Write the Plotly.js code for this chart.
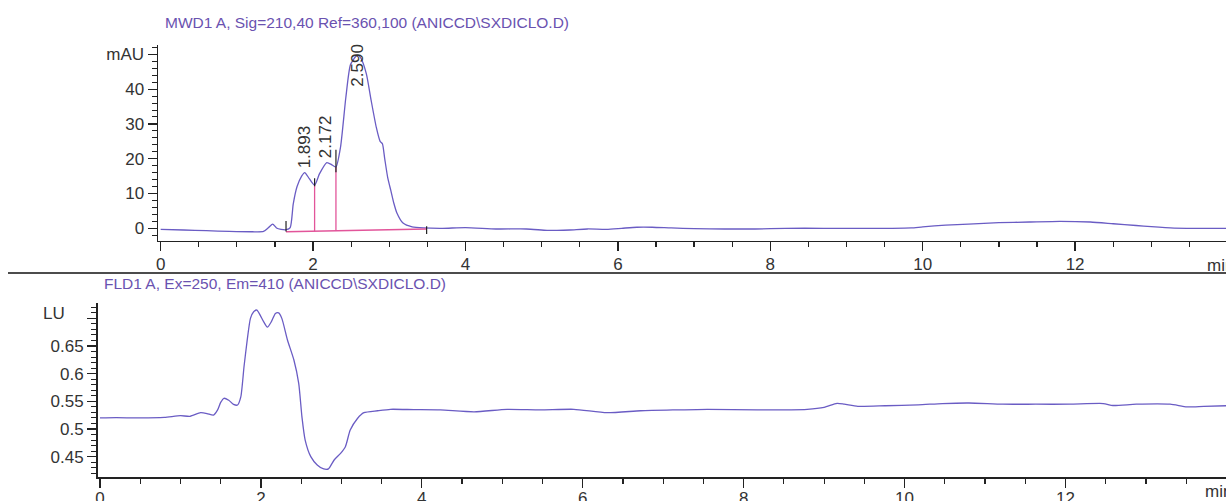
<!DOCTYPE html>
<html>
<head>
<meta charset="utf-8">
<script src="https://cdn.plot.ly/plotly-3.0.1.min.js"></script>
<style>html,body{margin:0;padding:0;background:#fff;}#chart{width:1226px;height:501px;}</style>
</head>
<body>
<div id="chart"></div>
<script>
// ---- MWD1 A signal (mAU vs min) ----
const mwdTime = [0, 0.3, 0.6, 0.9, 1.2, 1.35, 1.42, 1.47, 1.52, 1.58, 1.65, 1.70, 1.74, 1.79, 1.85, 1.89, 1.95, 2.02, 2.085, 2.18, 2.25, 2.30, 2.36, 2.43, 2.49, 2.56, 2.59, 2.63, 2.70, 2.76, 2.83, 2.88, 2.91, 2.94, 2.98, 3.02, 3.06, 3.10, 3.18, 3.30, 3.45, 3.7, 4.0, 4.4, 4.8, 5.07, 5.2, 5.37, 5.6, 5.85, 6.05, 6.25, 6.45, 6.7, 7.0, 7.4, 7.8, 8.2, 8.7, 9.2, 9.6, 9.85, 10.0, 10.3, 10.6, 11.0, 11.4, 11.8, 12.2, 12.5, 12.8, 13.0, 13.3, 13.6, 14.0];
const mwdSignal = [-0.3, -0.5, -0.7, -0.9, -1.0, -0.9, 0.3, 1.2, 0.1, -0.3, -0.4, 0.2, 7, 12, 15, 16, 14.3, 12.4, 15.7, 18.9, 18.2, 17.6, 23.3, 37.6, 47, 49.4, 49.8, 48.8, 44.3, 37, 29, 25, 24.3, 20, 14.5, 10.9, 7.2, 4.4, 1.5, 0.4, 0.1, 0, 0.2, -0.2, -0.2, -0.6, -0.6, -0.5, -0.2, -0.3, 0, 0.3, 0.3, 0.1, -0.1, -0.2, -0.2, 0, 0, 0, 0, 0.1, 0.4, 0.9, 1.2, 1.6, 1.8, 2.0, 1.8, 1.3, 0.8, 0.45, 0.05, 0, 0];

// integration events
const peakTimes = [1.893, 2.172, 2.590];
const peakLabels = ["1.893", "2.172", "2.590"];
const baseStart = [1.645, -1.0];
const baseEnd = [3.49, -0.2];
const dropTimes = [2.02, 2.30];

// ---- FLD1 A signal (LU vs min) ----
const fldTime = [0, 0.2, 0.5, 0.8, 1.0, 1.12, 1.25, 1.33, 1.41, 1.46, 1.50, 1.54, 1.60, 1.66, 1.71, 1.75, 1.79, 1.83, 1.87, 1.91, 1.95, 1.99, 2.03, 2.08, 2.13, 2.18, 2.22, 2.26, 2.33, 2.41, 2.47, 2.51, 2.55, 2.62, 2.70, 2.78, 2.84, 2.91, 2.99, 3.05, 3.11, 3.20, 3.28, 3.45, 3.61, 3.9, 4.23, 4.65, 5.06, 5.47, 5.89, 6.30, 6.72, 7.14, 7.55, 8.17, 8.79, 9.0, 9.16, 9.25, 9.42, 9.76, 10.17, 10.47, 10.80, 11.22, 11.63, 12.05, 12.47, 12.59, 12.88, 13.30, 13.51, 13.72, 14.0];
const fldSignal = [0.520, 0.5205, 0.520, 0.521, 0.524, 0.523, 0.5295, 0.528, 0.525, 0.534, 0.548, 0.5555, 0.552, 0.5445, 0.5434, 0.558, 0.6126, 0.661, 0.700, 0.712, 0.715, 0.706, 0.695, 0.684, 0.694, 0.709, 0.710, 0.700, 0.661, 0.6247, 0.5826, 0.522, 0.480, 0.45, 0.435, 0.4277, 0.428, 0.444, 0.456, 0.468, 0.498, 0.519, 0.5295, 0.533, 0.5356, 0.535, 0.5345, 0.531, 0.5356, 0.5345, 0.5356, 0.5295, 0.533, 0.5345, 0.5356, 0.5345, 0.5356, 0.539, 0.5464, 0.545, 0.541, 0.542, 0.5437, 0.546, 0.547, 0.5448, 0.5448, 0.5448, 0.546, 0.5425, 0.5448, 0.5448, 0.540, 0.541, 0.542];

// axis ticks
const mwdTickVals = [0, 10, 20, 30, 40, 50];
const mwdTickText = ["0", "10", "20", "30", "40", "mAU"];
const fldTickVals = [0.45, 0.5, 0.55, 0.6, 0.65, 0.7];
const fldTickText = ["0.45", "0.5", "0.55", "0.6", "0.65", ""];
const timeTickVals = [0, 2, 4, 6, 8, 10, 12];

const titleTop = "MWD1 A, Sig=210,40 Ref=360,100 (ANICCD\\SXDICLO.D)";
const titleBottom = "FLD1 A, Ex=250, Em=410 (ANICCD\\SXDICLO.D)";

function interp(xs, ys, x) {
  for (let i = 0; i < xs.length - 1; i++) {
    if (x >= xs[i] && x <= xs[i + 1]) {
      const f = (x - xs[i]) / (xs[i + 1] - xs[i]);
      return ys[i] + f * (ys[i + 1] - ys[i]);
    }
  }
  return ys[ys.length - 1];
}
function baseAt(t) {
  return baseStart[1] + (t - baseStart[0]) / (baseEnd[0] - baseStart[0]) * (baseEnd[1] - baseStart[1]);
}

const LINE = '#6a5cc4';
const PINK = '#e2559a';
const AX = '#222';
const TXT = '#333';
const FONT = 'Liberation Sans, Arial, sans-serif';

const dropX = [], dropY = [];
dropTimes.forEach(t => { dropX.push(t, t, null); dropY.push(baseAt(t), interp(mwdTime, mwdSignal, t), null); });

// short black event markers (offsets below / above the trace, in mAU)
const markEvents = [[baseStart[0], 0.5, 2.5], [dropTimes[0], 0.3, 2.0], [dropTimes[1], 1.5, 5.0], [baseEnd[0], 1.7, 0.5]];
const markX = [], markY = [];
markEvents.forEach(m => {
  const v = interp(mwdTime, mwdSignal, m[0]);
  markX.push(m[0], m[0], null); markY.push(v - m[1], v + m[2], null);
});

const traces = [
  {x: mwdTime, y: mwdSignal, xaxis: 'x', yaxis: 'y', mode: 'lines', line: {color: LINE, width: 1.3, shape: 'spline', smoothing: 0.6}, hoverinfo: 'skip'},
  {x: [baseStart[0], baseEnd[0]], y: [baseStart[1], baseEnd[1]], xaxis: 'x', yaxis: 'y', mode: 'lines', line: {color: PINK, width: 1.3}, hoverinfo: 'skip'},
  {x: dropX, y: dropY, xaxis: 'x', yaxis: 'y', mode: 'lines', line: {color: PINK, width: 1.3}, hoverinfo: 'skip'},
  {x: markX, y: markY, xaxis: 'x', yaxis: 'y', mode: 'lines', line: {color: AX, width: 1.2}, hoverinfo: 'skip'},
  {x: fldTime, y: fldSignal, xaxis: 'x2', yaxis: 'y2', mode: 'lines', line: {color: LINE, width: 1.3, shape: 'spline', smoothing: 0.6}, hoverinfo: 'skip'}
];

const yTopRange = [-3.65, 52.67];
const annotations = [];
peakTimes.forEach((t, i) => {
  const h = interp(mwdTime, mwdSignal, t);
  const fits = h + 15 < yTopRange[1];
  annotations.push({
    x: t, y: fits ? h : yTopRange[1], xref: 'x', yref: 'y',
    text: peakLabels[i], textangle: -90, showarrow: false,
    xanchor: 'center', yanchor: fits ? 'bottom' : 'top', yshift: 3,
    font: {family: FONT, size: 17, color: TXT}
  });
});
annotations.push(
  {x: 163 / 1226, y: 0.956, xref: 'paper', yref: 'paper', text: titleTop, showarrow: false, xanchor: 'left', yanchor: 'middle', font: {family: FONT, size: 15.5, color: '#6a52b0'}},
  {x: 101.5 / 1226, y: 0.434, xref: 'paper', yref: 'paper', text: titleBottom, showarrow: false, xanchor: 'left', yanchor: 'middle', font: {family: FONT, size: 15.5, color: '#6a52b0'}},
  {x: 54 / 1226, y: 0.7096, xref: 'paper', yref: 'y2', text: 'LU', showarrow: false, xanchor: 'center', yanchor: 'middle', font: {family: FONT, size: 17, color: TXT}},
  {x: 1205 / 1226, y: 0.471, xref: 'paper', yref: 'paper', text: 'min', showarrow: false, xanchor: 'left', yanchor: 'middle', font: {family: FONT, size: 17, color: TXT}},
  {x: 1203 / 1226, y: 0.018, xref: 'paper', yref: 'paper', text: 'min', showarrow: false, xanchor: 'left', yanchor: 'middle', font: {family: FONT, size: 17, color: TXT}}
);

const axCommon = {
  showline: true, linecolor: AX, linewidth: 1.5, mirror: false,
  ticks: 'outside', ticklen: 9, tickwidth: 1.3, tickcolor: AX,
  showgrid: false, zeroline: false,
  tickfont: {family: FONT, size: 17, color: TXT}
};

const layout = {
  width: 1226, height: 501,
  margin: {l: 0, r: 0, t: 0, b: 0},
  paper_bgcolor: '#fff', plot_bgcolor: '#fff',
  showlegend: false,
  xaxis: Object.assign({}, axCommon, {domain: [158 / 1226, 1], range: [-0.035, 13.98], anchor: 'y', tickvals: timeTickVals, ticklabelstandoff: -2,
    minor: {dtick: 0.5, tick0: 0, ticks: 'outside', ticklen: 5, tickwidth: 1.2, tickcolor: AX}}),
  yaxis: Object.assign({}, axCommon, {domain: [0.519, 0.910], range: yTopRange, anchor: 'x', tickvals: mwdTickVals, ticktext: mwdTickText, ticklabelstandoff: 0,
    minor: {dtick: 2, tick0: 0, ticks: 'outside', ticklen: 5, tickwidth: 1, tickcolor: AX}}),
  xaxis2: Object.assign({}, axCommon, {domain: [97.5 / 1226, 1], range: [-0.031, 13.995], anchor: 'y2', tickvals: timeTickVals, ticklabelstandoff: -4,
    minor: {dtick: 0.5, tick0: 0, ticks: 'outside', ticklen: 5, tickwidth: 1.2, tickcolor: AX}}),
  yaxis2: Object.assign({}, axCommon, {domain: [0.047, 0.395], range: [0.4124, 0.7276], anchor: 'x2', tickvals: fldTickVals, ticktext: fldTickText, ticklabelstandoff: 0,
    minor: {dtick: 0.01, tick0: 0, ticks: 'outside', ticklen: 5, tickwidth: 1, tickcolor: AX}}),
  shapes: [
    {type: 'line', xref: 'paper', yref: 'paper', x0: 8 / 1226, x1: 1, y0: 0.455, y1: 0.455, line: {color: '#111', width: 1.5}}
  ],
  annotations: annotations
};

Plotly.newPlot('chart', traces, layout, {staticPlot: true, displayModeBar: false});
</script>
</body>
</html>
